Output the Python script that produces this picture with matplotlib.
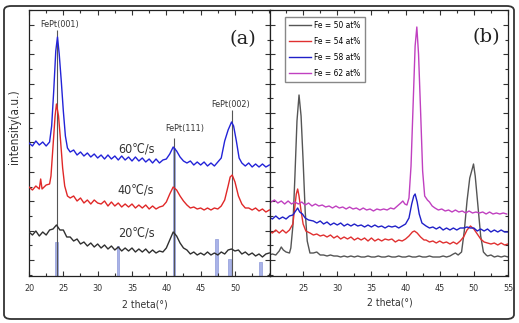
import matplotlib
matplotlib.use('Agg')
import matplotlib.pyplot as plt
from matplotlib.patches import FancyBboxPatch
from matplotlib.ticker import MultipleLocator, FixedLocator

plt.rcParams['font.family'] = ['DejaVu Sans']
plt.rcParams['font.stretch'] = 'condensed'

# ---- panel (a): cooling rates ----
a20_x = [20, 20.5, 21, 21.5, 22, 22.5, 23, 23.5, 24, 24.5, 25, 25.5, 26, 26.5, 27, 27.5, 28, 28.5, 29, 29.5,
         30, 30.5, 31, 31.5, 32, 32.5, 33, 33.5, 34, 34.5, 35, 35.5, 36, 36.5, 37, 37.5, 38, 38.5, 39, 39.5,
         40, 40.5, 41, 41.5, 42, 42.5, 43, 43.5, 44, 44.5, 45, 45.5, 46, 46.5, 47, 47.5, 48, 48.5, 49, 49.5,
         50, 50.5, 51, 51.5, 52, 52.5, 53, 53.5, 54, 54.5, 55]
a20_y = [44, 41, 45, 40, 44, 41, 46, 47, 51, 46, 46, 39, 39, 35, 37, 32, 34, 30, 33, 29,
         32, 28, 31, 27, 30, 26, 29, 25, 28, 25, 28, 24, 27, 24, 27, 23, 26, 23, 25, 24,
         28, 36, 44, 40, 33, 28, 26, 22, 24, 21, 23, 21, 24, 21, 23, 21, 24, 22, 26, 27,
         25, 26, 22, 24, 21, 23, 20, 22, 19, 22, 23]

a40_x = [20, 20.5, 21, 21.5, 21.7, 21.9, 22.5, 23, 23.2, 23.5, 23.8, 24.0, 24.3, 24.6, 24.9, 25.2, 25.6, 26,
         26.5, 27, 27.5, 28, 28.5, 29, 29.5, 30, 30.5, 31, 31.5, 32, 32.5, 33, 33.5, 34, 34.5, 35, 35.5, 36,
         36.5, 37, 37.5, 38, 38.5, 39, 39.5, 40, 40.5, 41, 41.5, 42, 42.5, 43, 43.5, 44, 44.5, 45, 45.5, 46,
         46.5, 47, 47.5, 48, 48.5, 49, 49.3, 49.6, 50, 50.5, 51, 51.5, 52, 52.5, 53, 53.5, 54, 54.5, 55]
a40_y = [89, 86, 90, 87, 97, 87, 91, 92, 100, 130, 160, 172, 160, 135, 108, 90, 80, 78,
         80, 75, 78, 73, 76, 72, 76, 73, 72, 75, 70, 74, 70, 73, 69, 72, 69, 72, 68, 71,
         68, 71, 67, 70, 67, 69, 70, 74, 82, 89, 86, 80, 75, 71, 68, 69, 67, 68, 66, 68,
         66, 68, 67, 70, 76, 90, 99, 101, 94, 80, 72, 68, 68, 66, 68, 65, 67, 64, 66]

a60_x = [20, 20.5, 21, 21.5, 22, 22.5, 23, 23.3, 23.6, 23.9, 24.15, 24.4, 24.7, 25.0, 25.3, 25.6, 26,
         26.5, 27, 27.5, 28, 28.5, 29, 29.5, 30, 30.5, 31, 31.5, 32, 32.5, 33, 33.5, 34, 34.5, 35, 35.5, 36,
         36.5, 37, 37.5, 38, 38.5, 39, 39.5, 40, 40.5, 41, 41.5, 42, 42.5, 43, 43.5, 44, 44.5, 45, 45.5, 46,
         46.5, 47, 47.5, 48, 48.5, 49, 49.5, 49.8, 50.2, 50.6, 51, 51.5, 52, 52.5, 53, 53.5, 54, 54.5, 55]
a60_y = [133, 130, 135, 131, 134, 130, 134, 150, 185, 225, 239, 222, 195, 165, 140, 128, 124,
         126, 121, 124, 120, 123, 119, 122, 118, 121, 117, 121, 117, 120, 116, 120, 116, 119, 115, 119, 115,
         118, 114, 117, 113, 117, 113, 116, 117, 122, 129, 125, 119, 115, 113, 115, 111, 114, 111, 114, 110,
         113, 110, 114, 118, 135, 146, 154, 150, 135, 118, 113, 110, 113, 109, 112, 109, 112, 109, 111]

ref_pos = [24.0, 33.0, 41.1, 47.3, 49.2, 53.7]
ref_h = [34, 30, 128, 37, 17, 14]
peak_pos = [24.1, 41.1, 49.5]
peak_top = [246, 138, 166]
peak_names = ['FePt(001)', 'FePt(111)', 'FePt(002)']
rate_labels = ['60\u2103/s', '40\u2103/s', '20\u2103/s']

# ---- panel (b): Fe content ----
b50_x = [20, 20.5, 21, 21.5, 21.8, 22.1, 22.5, 23, 23.2, 23.5, 23.8, 24.1, 24.4, 24.7, 25.0, 25.3, 25.6, 26,
         26.5, 27, 27.5, 28, 28.5, 29, 29.5, 30, 30.5, 31, 31.5, 32, 32.5, 33, 33.5, 34, 34.5, 35, 35.5, 36,
         36.5, 37, 37.5, 38, 38.5, 39, 39.5, 40, 40.5, 41, 41.5, 42, 42.5, 43, 43.5, 44, 44.5, 45, 45.5, 46,
         46.5, 47, 47.3, 47.7, 48.2, 48.6, 49.0, 49.4, 49.8, 49.95, 50.2, 50.6, 51.0, 51.4, 51.8, 52, 52.5,
         53, 53.5, 54, 54.5, 55]
b50_y = [21, 22, 21, 25, 29, 26, 24, 23, 28, 50, 100, 155, 181, 160, 115, 65, 35, 23,
         23, 24, 21, 21, 20, 21, 20, 20, 19, 20, 19, 20, 19, 20, 19, 19, 20, 19, 19, 20,
         19, 19, 20, 19, 19, 20, 19, 19, 20, 19, 19, 20, 19, 19, 20, 19, 19, 19, 20, 19,
         20, 22, 23, 21, 24, 45, 75, 98, 108, 112, 100, 70, 40, 24, 21, 20, 21,
         19, 20, 19, 20, 19]

b54_x = [20, 20.5, 21, 21.5, 22, 22.5, 23, 23.5, 23.8, 24.0, 24.2, 24.4, 24.7, 25.0, 25.4, 26, 26.5, 27,
         27.5, 28, 28.5, 29, 29.5, 30, 30.5, 31, 31.5, 32, 32.5, 33, 33.5, 34, 34.5, 35, 35.5, 36, 36.5, 37,
         37.5, 38, 38.5, 39, 39.5, 40, 40.5, 41, 41.3, 41.7, 42.2, 42.7, 43, 43.5, 44, 44.5, 45, 45.5, 46,
         46.5, 47, 47.5, 48, 48.5, 49, 49.5, 50, 50.5, 51, 51.5, 52, 52.5, 53, 53.5, 54, 54.5, 55]
b54_y = [45, 43, 46, 43, 46, 43, 46, 52, 70, 82, 87, 80, 65, 52, 45, 43, 41, 42,
         40, 41, 39, 41, 38, 40, 37, 39, 37, 39, 36, 38, 36, 38, 35, 38, 35, 37, 35, 37,
         36, 37, 34, 36, 35, 37, 40, 44, 45, 43, 39, 36, 36, 34, 35, 33, 35, 33, 34,
         32, 34, 32, 35, 39, 46, 50, 47, 42, 37, 34, 33, 32, 33, 31, 33, 31, 32]

b58_x = [20, 20.5, 21, 21.5, 22, 22.5, 23, 23.5, 23.9, 24.2, 24.5, 24.9, 25.3, 25.8, 26.5, 27, 27.5, 28,
         28.5, 29, 29.5, 30, 30.5, 31, 31.5, 32, 32.5, 33, 33.5, 34, 34.5, 35, 35.5, 36, 36.5, 37, 37.5, 38,
         38.5, 39, 39.5, 40, 40.5, 40.9, 41.2, 41.4, 41.7, 42.0, 42.4, 43, 43.5, 44, 44.5, 45, 45.5, 46, 46.5,
         47, 47.5, 48, 48.5, 49, 49.5, 50, 50.5, 51, 51.5, 52, 52.5, 53, 53.5, 54, 54.5, 55]
b58_y = [59, 57, 60, 57, 59, 57, 60, 61, 65, 68, 64, 62, 58, 56, 55, 53, 55, 52,
         54, 51, 53, 51, 53, 50, 52, 50, 52, 50, 51, 49, 51, 49, 51, 49, 50, 48, 50, 49,
         50, 48, 50, 52, 58, 72, 80, 82, 74, 62, 53, 50, 48, 49, 47, 49, 46, 48, 46,
         48, 46, 48, 48, 49, 48, 48, 45, 47, 45, 47, 44, 46, 44, 46, 44, 44]

b62_x = [20.3, 20.8, 21.3, 21.8, 22.3, 22.8, 23.3, 23.8, 24.3, 24.8, 25.3, 25.8, 26.3, 26.8, 27.3, 27.8,
         28.3, 28.8, 29.3, 29.8, 30.3, 30.8, 31.3, 31.8, 32.3, 32.8, 33.3, 33.8, 34.3, 34.8, 35.3, 35.8,
         36.3, 36.8, 37.3, 37.8, 38.3, 38.8, 39.3, 39.6, 39.9, 40.2, 40.5, 40.8, 41.1, 41.4, 41.65, 41.9, 42.2,
         42.5, 42.8, 43.2, 43.5, 43.9, 44.3, 44.8, 45.3, 45.8, 46.3, 46.8, 47.3, 47.8, 48.3, 48.8, 49.3,
         49.8, 50.3, 50.8, 51.3, 51.8, 52.3, 52.8, 53.3, 53.8, 54.3, 54.8]
b62_y = [74, 76, 73, 75, 72, 75, 72, 74, 72, 74, 71, 73, 70, 72, 70, 71,
         69, 70, 68, 70, 68, 69, 67, 69, 67, 68, 66, 68, 66, 67, 65, 67,
         66, 67, 66, 68, 67, 70, 73, 75, 72, 71, 78, 110, 170, 230, 249, 222, 165,
         105, 80, 76, 74, 70, 68, 66, 67, 65, 66, 64, 66, 64, 65, 63, 65,
         63, 64, 63, 64, 62, 64, 62, 63, 62, 63, 62]

fe_labels = ['Fe = 50 at%', 'Fe = 54 at%', 'Fe = 58 at%', 'Fe = 62 at%']

W, H = 519, 323
fig = plt.figure(figsize=(W / 100, H / 100), dpi=100)

# rounded frame around everything
frame = FancyBboxPatch((4 / W, 4 / H), 510 / W, 313 / H,
                       boxstyle='round,pad=0,rounding_size=0.014',
                       transform=fig.transFigure, fill=False,
                       edgecolor='#333333', linewidth=1.3)
fig.patches.append(frame)

ax_a = fig.add_axes([29 / W, (H - 276) / H, (270 - 29) / W, 266 / H])
ax_b = fig.add_axes([270 / W, (H - 276) / H, (508 - 270) / W, 266 / H])

maj = [16 + 29.4 * k for k in range(9)]
mnr = [1.3 + 29.4 * k for k in range(10)]

for ax in (ax_a, ax_b):
    ax.set_ylim(0, 266)
    ax.yaxis.set_major_locator(FixedLocator(maj))
    ax.yaxis.set_minor_locator(FixedLocator(mnr))
    ax.xaxis.set_major_locator(MultipleLocator(5))
    ax.xaxis.set_minor_locator(MultipleLocator(2.5))
    ax.tick_params(which='both', direction='in', top=True, right=True, width=0.8,
                   labelsize=6.5, colors='#333333', pad=6)
    ax.tick_params(which='major', length=3.5)
    ax.tick_params(which='minor', length=2)
    ax.set_yticklabels([])
    for s in ax.spines.values():
        s.set_linewidth(0.9)
        s.set_color('#222222')

lw = 1.0

# panel (a)
ax_a.set_xlim(20, 55.1)
ax_a.set_xticks([20, 25, 30, 35, 40, 45, 50])
ax_a.bar(ref_pos, ref_h, width=0.35, color='#a9b3e8', edgecolor='#8f9ad8', linewidth=0.5, zorder=1)
ax_a.vlines(peak_pos, 0, peak_top, color='#555555', linewidth=0.8, zorder=2)
ax_a.plot(a20_x, a20_y, color='#303030', linewidth=lw, zorder=3)
ax_a.plot(a40_x, a40_y, color='#e02828', linewidth=lw, zorder=3)
ax_a.plot(a60_x, a60_y, color='#2323d8', linewidth=lw, zorder=3)
ax_a.text(24.5, 251, peak_names[0], fontsize=6.5, ha='center', va='center', color='#333333')
ax_a.text(42.7, 147, peak_names[1], fontsize=6.5, ha='center', va='center', color='#333333')
ax_a.text(49.3, 172, peak_names[2], fontsize=6.5, ha='center', va='center', color='#333333')
for lab, yy in zip(rate_labels, [127, 86, 43]):
    ax_a.text(35.6, yy, lab, fontsize=9, ha='center', va='center', color='#333333')
ax_a.text(51.2, 237, '(a)', fontsize=14, family='DejaVu Serif', fontstretch='normal',
          ha='center', va='center', color='#222222')
ax_a.set_xlabel('2 theta(\u00b0)', fontsize=7.5, color='#333333')
ax_a.xaxis.set_label_coords(0.48, -0.09)
ax_a.set_ylabel('intensity(a.u.)', fontsize=8.5, color='#333333')
ax_a.yaxis.set_label_coords(-0.035, 0.56)

# panel (b)
ax_b.set_xlim(20.15, 55)
ax_b.set_xticks([25, 30, 35, 40, 45, 50, 55])
l1, = ax_b.plot(b50_x, b50_y, color='#555555', linewidth=lw)
l2, = ax_b.plot(b54_x, b54_y, color='#e03030', linewidth=lw)
l3, = ax_b.plot(b58_x, b58_y, color='#2020c8', linewidth=lw)
l4, = ax_b.plot(b62_x, b62_y, color='#c040c0', linewidth=lw)
ax_b.legend([l1, l2, l3, l4], fe_labels, loc='upper left', bbox_to_anchor=(0.045, 0.99),
            fontsize=6, fancybox=False, edgecolor='#888888', framealpha=1,
            handlelength=2.6, labelspacing=0.85, borderpad=0.5, handletextpad=0.4)
ax_b.text(51.8, 239, '(b)', fontsize=14, family='DejaVu Serif', fontstretch='normal',
          ha='center', va='center', color='#222222')
ax_b.set_xlabel('2 theta(\u00b0)', fontsize=7.5, color='#333333')
ax_b.xaxis.set_label_coords(0.504, -0.079)

fig.savefig('out.png', dpi=100)
